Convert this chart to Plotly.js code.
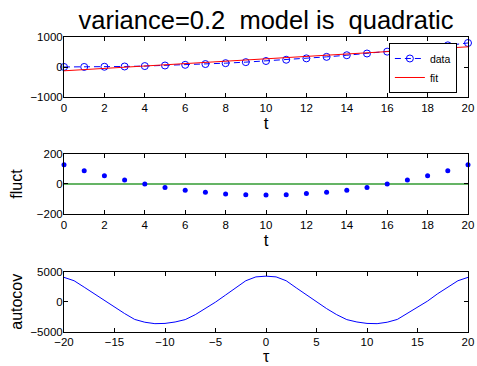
<!DOCTYPE html>
<html>
<head>
<meta charset="utf-8">
<script src="https://cdn.plot.ly/plotly-3.0.1.min.js"></script>
<style>html,body{margin:0;padding:0;background:#fff;}#chart{width:477px;height:366px;}</style>
</head>
<body>
<div id="chart"></div>
<script>
// ---- data ----
const t = [0,1,2,3,4,5,6,7,8,9,10,11,12,13,14,15,16,17,18,19,20];
const dataVals = [1,2,8,17,31,50,72,98,128,162,200,242,288,338,392,450,512,578,648,722,801];
const fitT = [0, 20];
const fitVals = [-127, 673];
const fluct = [128,89,55,26,0,-23,-42,-55,-66,-72,-73,-72,-64,-55,-42,-23,0,26,55,89,128];
const zeroT = [0, 20];
const zeroVals = [0, 0];
const lags = [-20,-19,-18,-17,-16,-15,-14,-13,-12,-11,-10,-9,-8,-7,-6,-5,-4,-3,-2,-1,0,
              1,2,3,4,5,6,7,8,9,10,11,12,13,14,15,16,17,18,19,20];
const autocov = [4100,3530,2450,1350,120,-960,-1980,-2970,-3440,-3680,-3640,-3400,-3000,-2170,-1150,-60,1130,2330,3530,4180,4300,
                 4180,3530,2330,1130,-60,-1150,-2170,-3000,-3400,-3640,-3680,-3440,-2970,-1980,-960,120,1350,2450,3530,4100];
const titleText = "variance=0.2\u00a0 model is\u00a0 quadratic";
const tauLabel = "τ";

const FONT = "Liberation Sans, Arial, Helvetica, sans-serif";
const tickFont = {family: FONT, size: 11.5, color: '#000'};

function axisBase(extra) {
  return Object.assign({
    showgrid: false, zeroline: false, showline: true, linecolor: '#000', linewidth: 1,
    mirror: 'ticks', ticks: 'inside', ticklen: 4, tickcolor: '#000', tickwidth: 1,
    tickfont: tickFont, fixedrange: true
  }, extra);
}

const traces = [
  {x: t, y: dataVals, type: 'scatter', mode: 'lines+markers', name: 'data',
   line: {color: 'rgb(0,0,255)', width: 1, dash: '6px,4px'},
   marker: {symbol: 'circle-open', size: 7, color: 'rgb(0,0,255)', line: {width: 1, color: 'rgb(0,0,255)'}},
   xaxis: 'x', yaxis: 'y', cliponaxis: false},
  {x: fitT, y: fitVals, type: 'scatter', mode: 'lines', name: 'fit',
   line: {color: 'rgb(255,0,0)', width: 1}, xaxis: 'x', yaxis: 'y'},
  {x: zeroT, y: zeroVals, type: 'scatter', mode: 'lines', showlegend: false,
   line: {color: 'rgb(50,155,50)', width: 1.5}, xaxis: 'x2', yaxis: 'y2'},
  {x: t, y: fluct, type: 'scatter', mode: 'markers', showlegend: false,
   marker: {symbol: 'circle', size: 5, color: 'rgb(0,0,255)'}, xaxis: 'x2', yaxis: 'y2', cliponaxis: false},
  {x: lags, y: autocov, type: 'scatter', mode: 'lines', showlegend: false,
   line: {color: 'rgb(0,0,255)', width: 1}, xaxis: 'x3', yaxis: 'y3'}
];

const layout = {
  width: 477, height: 366,
  margin: {l: 63.5, r: 9, t: 37, b: 5},
  paper_bgcolor: '#fff', plot_bgcolor: '#fff',
  font: {family: FONT, color: '#000'},
  title: {text: titleText, font: {family: FONT, size: 25.5, color: '#000'},
          x: 0.5, xref: 'paper', xanchor: 'center', y: 0.922, yref: 'container', yanchor: 'bottom'},
  showlegend: true,
  legend: {x: 0.9725, y: 0.9815, xanchor: 'right', yanchor: 'top', bgcolor: '#fff',
           bordercolor: '#000', borderwidth: 1, font: {family: FONT, size: 10.5, color: '#000'},
           itemwidth: 30, tracegroupgap: 0},
  xaxis: axisBase({domain: [0, 1], range: [0, 20], dtick: 2, tick0: 0, anchor: 'y',
                   title: {text: 't', font: {family: FONT, size: 17}, standoff: 2}}),
  yaxis: axisBase({domain: [0.8148, 1], range: [-1000, 1000], dtick: 1000, anchor: 'x',
                   ticklabelstandoff: -2}),
  xaxis2: axisBase({domain: [0, 1], range: [0, 20], dtick: 2, tick0: 0, anchor: 'y2',
                    title: {text: 't', font: {family: FONT, size: 17}, standoff: 2}}),
  yaxis2: axisBase({domain: [0.4537, 0.6389], range: [-200, 200], dtick: 200, anchor: 'x2',
                    ticklabelstandoff: -2,
                    title: {text: 'fluct', font: {family: FONT, size: 16}}}),
  xaxis3: axisBase({domain: [0, 1], range: [-20, 20], dtick: 5, tick0: 0, anchor: 'y3'}),
  yaxis3: axisBase({domain: [0.0910, 0.2747], range: [-5000, 5000], dtick: 5000, anchor: 'x3',
                    ticklabelstandoff: -2,
                    title: {text: 'autocov', font: {family: FONT, size: 16}}}),
  annotations: [
    {text: tauLabel, xref: 'x3 domain', x: 0.5, xanchor: 'center', yref: 'paper', y: -0.0154,
     yanchor: 'bottom', borderpad: 0, showarrow: false, font: {family: FONT, size: 16, color: '#000'}}
  ]
};

Plotly.newPlot('chart', traces, layout, {displayModeBar: false, staticPlot: true});
</script>
</body>
</html>
